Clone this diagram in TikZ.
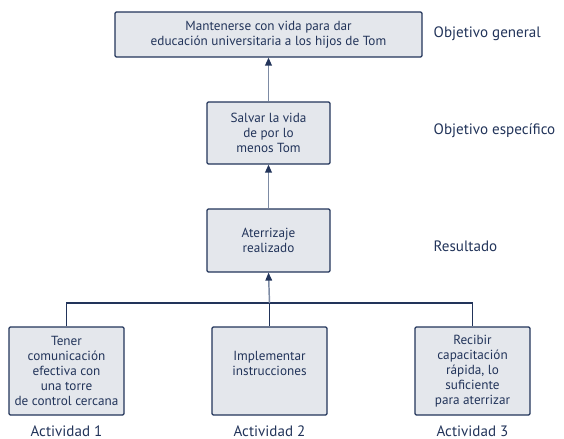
\documentclass[tikz,border=0pt]{standalone}
\usepackage{fontspec}
\setmainfont{PT Sans}
\usetikzlibrary{arrows.meta}
\definecolor{navy}{HTML}{22345A}
\definecolor{boxfill}{HTML}{E4E7EC}
\definecolor{stem}{HTML}{7D8BA4}
\begin{document}
\begin{tikzpicture}[x=0.75pt,y=-0.75pt,
    box/.style={draw=navy,fill=boxfill,line width=0.9pt,rounded corners=1pt,
      align=center,text=navy,font=\fontsize{9.9}{11.2}\selectfont,inner sep=2pt},
    tag/.style={text=navy,font=\fontsize{11.3}{13}\selectfont},
    up/.style={draw=stem,line width=1.1pt,-{Triangle[width=5pt,length=6pt,fill=navy,color=navy]}}]
  \useasboundingbox (0,0) rectangle (564,439);

  % Objective boxes (centre column).
  \node[box,minimum width=307*0.75pt,minimum height=45*0.75pt] (general) at (268.5,34.5)
    {Mantenerse con vida para dar\\educación universitaria a los hijos de Tom};
  \node[box,minimum width=123*0.75pt,minimum height=62*0.75pt] (especifico) at (268.5,133)
    {Salvar la vida\\de por lo\\menos Tom};
  \node[box,minimum width=123*0.75pt,minimum height=63*0.75pt] (resultado) at (268.5,240.5)
    {Aterrizaje\\realizado};

  % Activities.
  \node[box,minimum width=115*0.75pt,minimum height=88*0.75pt] (act1) at (66.5,371)
    {Tener\\comunicación\\efectiva con\\una torre\\de control cercana};
  \node[box,minimum width=115*0.75pt,minimum height=88*0.75pt,text depth=11pt] (act2) at (269.5,371)
    {Implementar\\instrucciones};
  \node[box,minimum width=115*0.75pt,minimum height=88*0.75pt] (act3) at (472.5,371)
    {Recibir\\capacitación\\rápida, lo\\suficiente\\para aterrizar};

  % Level labels.
  \node[tag,anchor=west] (lgeneral) at (429,34) {Objetivo general};
  \node[tag,anchor=west] (lespecifico) at (429,131) {Objetivo específico};
  \node[tag,anchor=west] (lresultado) at (429,246) {Resultado};
  \node[tag] (lact1) at (act1.center |- 0,431) {Actividad 1};
  \node[tag] (lact2) at (act2.center |- 0,431) {Actividad 2};
  \node[tag] (lact3) at (act3.center |- 0,431) {Actividad 3};

  % Connectors.
  \coordinate (bar) at (act2.north |- 0,303);
  \draw[navy,line width=0.9pt] (act1.north) |- (bar) -| (act3.north);
  \draw[navy,line width=0.9pt] (act2.north) -- (bar);
  \draw[up] (bar) -- (resultado.south);
  \draw[up] (resultado.north) -- (especifico.south);
  \draw[up] (especifico.north) -- (general.south);
\end{tikzpicture}
\end{document}
